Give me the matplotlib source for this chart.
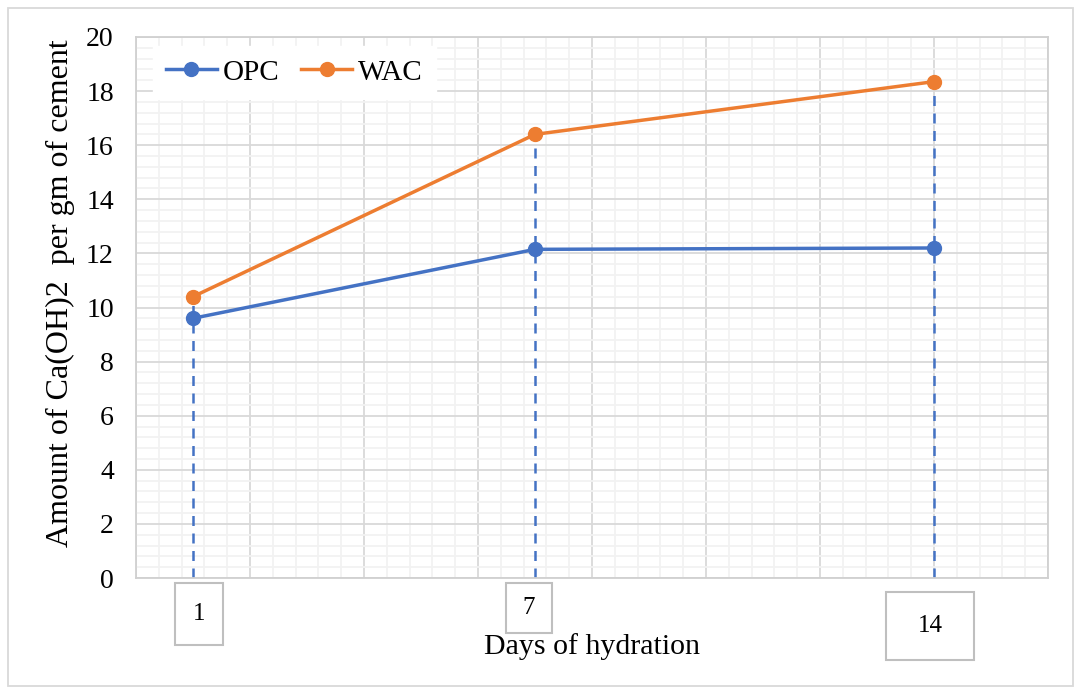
import matplotlib
matplotlib.use("Agg")
import matplotlib.pyplot as plt
from matplotlib.patches import Rectangle
from matplotlib.ticker import MultipleLocator

# data
days = [1, 7, 14]
opc = [9.6, 12.15, 12.2]
wac = [10.4, 16.4, 18.35]
tick_labels = ["1", "7", "14"]

plt.rcParams["font.family"] = ["Liberation Serif", "DejaVu Serif"]

fig = plt.figure(figsize=(10.81, 6.94), dpi=100)
ax = fig.add_axes([136 / 1081, 1 - 578 / 694, (1048 - 136) / 1081, (578 - 37) / 694])

blue = "#4472C4"
orange = "#ED7D31"

ax.set_xlim(0, 16)
ax.set_ylim(0, 20)
ax.xaxis.set_major_locator(MultipleLocator(2))
ax.xaxis.set_minor_locator(MultipleLocator(0.4))
ax.yaxis.set_major_locator(MultipleLocator(2))
ax.yaxis.set_minor_locator(MultipleLocator(0.4))
ax.grid(which="major", color="#d9d9d9", lw=1.3)
ax.grid(which="minor", color="#f2f2f2", lw=1.3)
ax.set_axisbelow(True)
for s in ax.spines.values():
    s.set_color("#d0d0d0")
    s.set_linewidth(1.3)

ax.tick_params(axis="both", which="both", length=0)
ax.tick_params(axis="y", labelsize=20, pad=16)
ax.set_xticklabels([])

# drop lines from the top series to the axis
top = [max(a, b) for a, b in zip(opc, wac)]
ax.vlines(days, 0, top, colors=blue, linestyles=(0, (4, 3)), lw=1.8, zorder=2)

ax.plot(days, opc, color=blue, lw=2.5, marker="o", ms=10, label="OPC", zorder=3)
ax.plot(days, wac, color=orange, lw=2.5, marker="o", ms=10, label="WAC", zorder=3)

leg = ax.legend(loc="upper left", bbox_to_anchor=(0.012, 0.994), ncol=2, frameon=True,
                fontsize=21, handlelength=1.75, columnspacing=0.75, handletextpad=0.2,
                borderaxespad=0.2, borderpad=0.45, fancybox=False, edgecolor="white",
                framealpha=1)

ax.set_ylabel("Amount of Ca(OH)2  per gm of cement", fontsize=23, va="center")
ax.yaxis.set_label_coords(-0.083, 0.527)
fig.text(592 / 1081, 1 - 647 / 694, "Days of hydration", fontsize=21.5,
         ha="center", va="center")

# boxed x tick labels (offsets and box sizes in pixels)
box_style = [(6, 36, 48, 62), (-6, 30, 46, 50), (-4, 48, 88, 68)]
fig.canvas.draw()
W, H = fig.bbox.width, fig.bbox.height
for d, lab, (dx, dy, bw, bh) in zip(days, tick_labels, box_style):
    px, py = ax.transData.transform((d, 0))
    cx, cy = px + dx, py - dy
    fig.add_artist(Rectangle(((cx - bw / 2) / W, (cy - bh / 2) / H), bw / W, bh / H,
                             transform=fig.transFigure, fill=False,
                             edgecolor="#bfbfbf", lw=1.5))
    fig.text(cx / W, cy / H, lab, fontsize=18, ha="center", va="center")

# outer chart border
fig.add_artist(Rectangle((8 / 1081, 8 / 694), 1065 / 1081, 678 / 694,
                         transform=fig.transFigure, fill=False,
                         edgecolor="#d9d9d9", lw=1.3))

fig.savefig("out.png", dpi=100)
